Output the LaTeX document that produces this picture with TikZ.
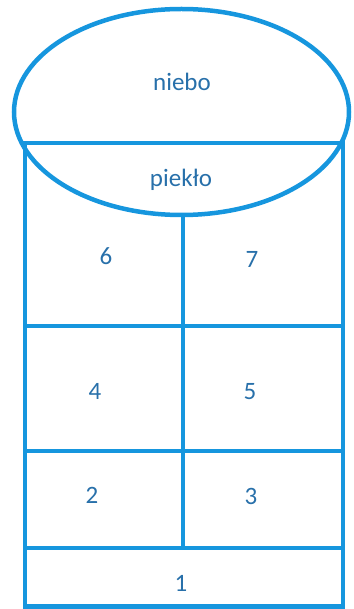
\documentclass[tikz,border=0pt]{standalone}
\usepackage{fontspec}
\setmainfont{Carlito}
\definecolor{linecol}{RGB}{22,150,222}
\definecolor{textcol}{RGB}{40,112,170}
\tikzset{
  edge/.style={draw=linecol, line width=4.5pt},
  lbl/.style={text=textcol, font=\fontsize{25}{27}\selectfont, inner sep=0pt, anchor=center}
}
\begin{document}
\begin{tikzpicture}[x=1pt,y=-1pt]
\useasboundingbox (0,0) rectangle (353,609);
% coordinates
\coordinate (tl) at (25,143);
\coordinate (tr) at (343,143);
\coordinate (bl) at (25,606.5);
\coordinate (br) at (343,606.5);
\coordinate (mtop) at (183,215);
\coordinate (mbot) at (183,548);
\coordinate (l1) at (25,326);
\coordinate (r1) at (343,326);
\coordinate (l2) at (25,451);
\coordinate (r2) at (343,451);
\coordinate (l3) at (25,548);
\coordinate (r3) at (343,548);
% box
\draw[edge] (tl) -- (bl) -- (br) -- (tr) -- cycle;
\draw[edge] (l1) -- (r1);
\draw[edge] (l2) -- (r2);
\draw[edge] (l3) -- (r3);
\draw[edge] (mtop) -- (mbot);
% ellipse
\draw[edge] (181.5,112) ellipse [x radius=167.5pt, y radius=103pt];
\draw[edge] (22,143) -- (345,143);
% labels
\node[lbl] (niebo) at (182,82) {niebo};
\node[lbl] (pieklo) at (181,180) {piekło};
\node[lbl] (n6) at (106,256) {6};
\node[lbl] (n7) at (252,259) {7};
\node[lbl] (n4) at (95,391) {4};
\node[lbl] (n5) at (250,392) {5};
\node[lbl] (n2) at (92,495) {2};
\node[lbl] (n3) at (251,496) {3};
\node[lbl] (n1) at (181,583) {1};
\end{tikzpicture}
\end{document}
